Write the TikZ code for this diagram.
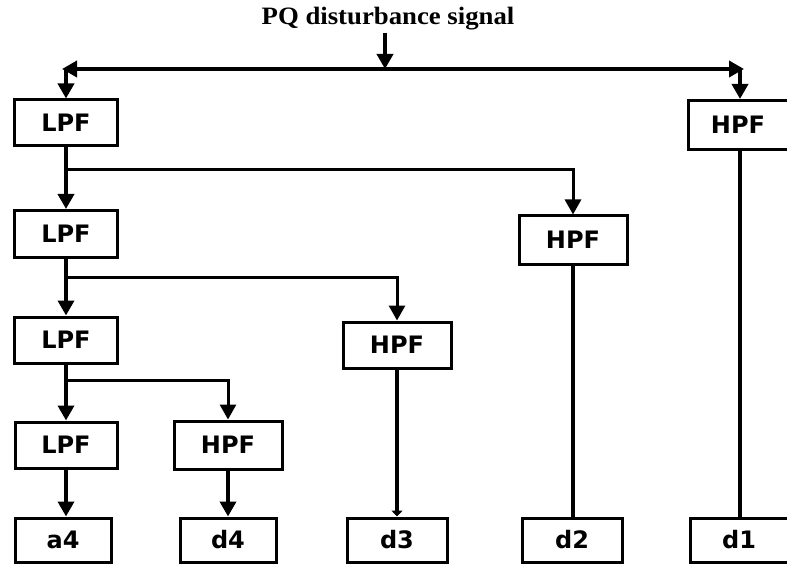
\documentclass[tikz,border=0pt]{standalone}
\usepackage{fontspec}
\setmainfont{Liberation Serif}
\newfontfamily\boxfont{DejaVu Sans}
\usetikzlibrary{arrows.meta}
\begin{document}
\begin{tikzpicture}[x=1pt,y=1pt,
  blk/.style={draw, line width=3pt, rectangle, minimum width=#1, minimum height=46pt, inner sep=0pt,
              font=\boxfont\bfseries\fontsize{24}{26}\selectfont},
  blk/.default=103pt,
  arr/.style={line width=3.6pt, -{Triangle[length=15pt,width=16pt]}},
  ln/.style={line width=3.4pt},
  brarr/.style={line width=3pt, -{Triangle[length=15pt,width=16pt]}},
  smallarr/.style={line width=3.4pt, -{Triangle[length=6pt,width=11pt]}}
]
\useasboundingbox (0,0) rectangle (787,-564);

% title
\node[font=\bfseries\fontsize{25}{27}\selectfont, xscale=1.07, inner sep=0pt] (title) at (388,-19) {PQ disturbance signal};

% first level
\node[blk=103pt] (lpf1) at (66,-123) {LPF};
\node[blk=100pt, minimum height=49pt] (hpf1) at (738,-125) {HPF};

% second level
\node[blk=103pt, minimum height=47pt] (lpf2) at (66,-234) {LPF};
\node[blk=108pt, minimum height=48pt] (hpf2) at (573,-240) {HPF};

% third level
\node[blk=103pt] (lpf3) at (66,-340) {LPF};
\node[blk=108pt] (hpf3) at (397,-345) {HPF};

% fourth level
\node[blk=102pt] (lpf4) at (66,-445) {LPF};
\node[blk=108pt, minimum height=48pt] (hpf4) at (228,-445) {HPF};

% outputs
\node[blk=96pt, minimum height=44pt] (a4) at (63,-540) {a4};
\node[blk=96pt, minimum height=44pt] (d4) at (228,-540) {d4};
\node[blk=100pt, minimum height=44pt] (d3) at (397,-540) {d3};
\node[blk=100pt, minimum height=44pt] (d2) at (572,-540) {d2};
\node[blk=98pt, minimum height=44pt] (d1) at (739,-540) {d1};

% top distribution
\coordinate (top) at (385,-69);
\coordinate (hl) at (66,-69);
\coordinate (hr) at (740,-69);
\coordinate (tsrc) at (385,-33);
\draw[arr] (tsrc) -- (top);
\draw[arr] (top) -- ([xshift=-4pt]hl);
\draw[arr] (top) -- ([xshift=4pt]hr);
\draw[arr] (hl) -- (lpf1.north);
\draw[arr] (hr) -- (hr |- hpf1.north);

% branch coordinates
\coordinate (b1) at (66,-170);
\coordinate (b2) at (66,-277);
\coordinate (b3) at (66,-380);

% left chain
\draw[arr] (lpf1.south) -- (lpf2.north);
\draw[arr] (lpf2.south) -- (lpf3.north);
\draw[arr] (lpf3.south) -- (lpf4.north);
\draw[arr] (lpf4.south) -- (lpf4.south |- a4.north);

% branches
\draw[brarr] (b1) -| (hpf2.north);
\draw[brarr] (b2) -| (hpf3.north);
\draw[brarr] (b3) -| (hpf4.north);

% outputs
\draw[arr] (hpf4.south) -- (d4.north);
\draw[smallarr] (hpf3.south) -- (d3.north);
\draw[ln] (hpf2.south) -- (hpf2.south |- d2.north);
\draw[ln] (hr |- hpf1.south) -- (hr |- d1.north);
\end{tikzpicture}
\end{document}
